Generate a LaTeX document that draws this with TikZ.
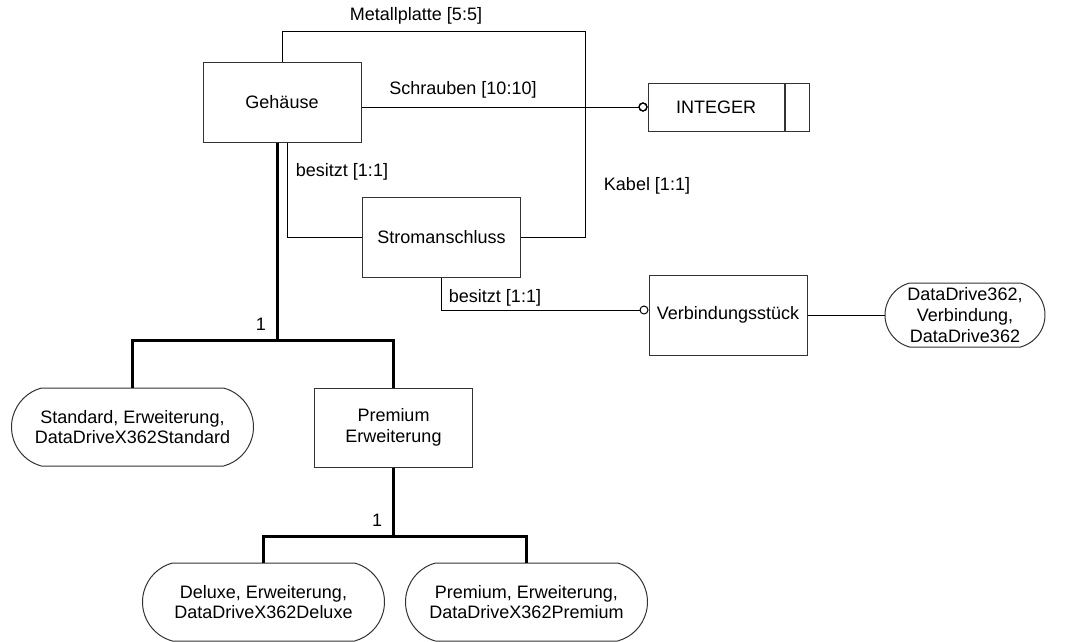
\documentclass[tikz,border=0pt]{standalone}
\usepackage{fontspec}
\setmainfont{Liberation Sans}
\usetikzlibrary{shapes.misc,arrows.meta}
\begin{document}
\begin{tikzpicture}[x=1pt,y=-1pt,
  every node/.style={font=\fontsize{18}{20.7}\selectfont, align=center, inner sep=0pt},
  ent/.style={draw=black!80, line width=1pt, minimum width=158pt, minimum height=80pt},
  pill/.style={draw=black!80, line width=1pt, rounded rectangle, rounded rectangle arc length=150, minimum width=242pt, minimum height=78pt},
  rel/.style={black, line width=1pt},
  tree/.style={black, line width=3pt},
  ring/.style={-{Circle[open,length=9pt,width=9pt]}}]
\useasboundingbox (0,0) rectangle (1083,641);

% entities
\node[ent] (geh) at (282,102) {Gehäuse};
\node[ent] (strom) at (441.5,237.5) {Stromanschluss};
\node[ent] (verb) at (728,315) {Verbindungsstück};
\node[draw=black!80, line width=1pt, minimum width=136pt, minimum height=48pt] (int) at (716,107) {INTEGER};
\node[draw=black!80, line width=1pt, minimum width=24pt, minimum height=48pt, anchor=west] (intb) at (int.east) {};
\node[ent, minimum height=79pt] (prem) at (393.5,427.5) {Premium\\Erweiterung};
\node[pill] (std) at (132.5,427) {Standard, Erweiterung,\\DataDriveX362Standard};
\node[pill] (delx) at (263.5,602) {Deluxe, Erweiterung,\\DataDriveX362Deluxe};
\node[pill] (premp) at (526.5,602) {Premium, Erweiterung,\\DataDriveX362Premium};
\node[pill, minimum width=160pt, minimum height=64pt] (dd) at (965,315) {DataDrive362,\\Verbindung,\\DataDrive362};

% junction coordinates
\coordinate (j) at (585,107);
\coordinate (top) at (585,31);
\coordinate (t1) at (277,340);
\coordinate (t2) at (393.5,536);

% relations
\draw[rel, ring] (geh.north) |- (top) -- (j) -- (int.west);
\draw[rel, ring] (geh.east |- int.west) -- (int.west);
\draw[rel, ring] (strom.east) -| (j) -- (int.west);
\draw[rel] ([xshift=5pt]geh.south) |- (strom.west);
\draw[rel, ring] (strom.south) |- ([yshift=5pt]verb.west);
\draw[rel] (verb.east) -- (dd.west);

% generalisation trees
\draw[tree] ([xshift=-5pt]geh.south) -- (t1);
\draw[tree] (std.north) |- (t1) -| (prem.north);
\draw[tree] (prem.south) -- (t2);
\draw[tree] (delx.north) |- (t2) -| (premp.north);

% labels
\node (lmp) at (416,16) {Metallplatte [5:5]};
\node (lsc) at (463,90) {Schrauben [10:10]};
\node (lb1) at (342,172) {besitzt [1:1]};
\node (lka) at (647,186) {Kabel [1:1]};
\node (lb2) at (495,298) {besitzt [1:1]};
\node (lo1) at (261,324) {1};
\node (lo2) at (377,520) {1};
\end{tikzpicture}
\end{document}
